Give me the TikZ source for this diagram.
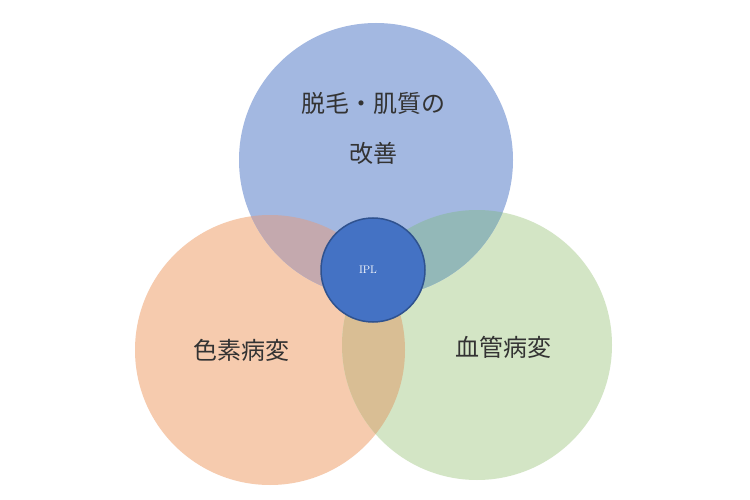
\documentclass[tikz,border=0pt]{standalone}
\usepackage{fontspec}
\newfontfamily\cjk{Noto Sans CJK JP}
\definecolor{cb}{HTML}{A3B8E1}
\definecolor{co}{HTML}{F6CBAE}
\definecolor{cg}{HTML}{D3E5C5}
\definecolor{cbo}{HTML}{C4A9AE}
\definecolor{cbg}{HTML}{93B8B8}
\definecolor{cog}{HTML}{D9BE94}
\definecolor{cipl}{HTML}{4472C4}
\definecolor{ciplb}{HTML}{2F528F}
\begin{document}
\begin{tikzpicture}[x=1pt,y=-1pt,
  lab/.style={font=\cjk\fontsize{24}{50}\selectfont, text=black!80, align=center}]
\useasboundingbox[fill=white] (0,0) rectangle (750,500);
\def\T{(376,160) circle (137)}
\def\L{(270,350) circle (135)}
\def\R{(477,345) circle (135)}
\fill[co] \L;
\fill[cg] \R;
\fill[cb] \T;
\begin{scope}\clip \T; \fill[cbo] \L; \end{scope}
\begin{scope}\clip \T; \fill[cbg] \R; \end{scope}
\begin{scope}\clip \L; \fill[cog] \R; \end{scope}
\node[circle, minimum size=104, fill=cipl, draw=ciplb, line width=1.5pt] (ipl) at (373,270) {};
\node[font=\fontsize{11}{13}\selectfont, text=white] at (368,270) {IPL};
\node[lab] (t) at (373,128) {脱毛・肌質の\\改善};
\node[lab] (l) at (241,350) {色素病変};
\node[lab] (r) at (503,347) {血管病変};
\end{tikzpicture}
\end{document}
